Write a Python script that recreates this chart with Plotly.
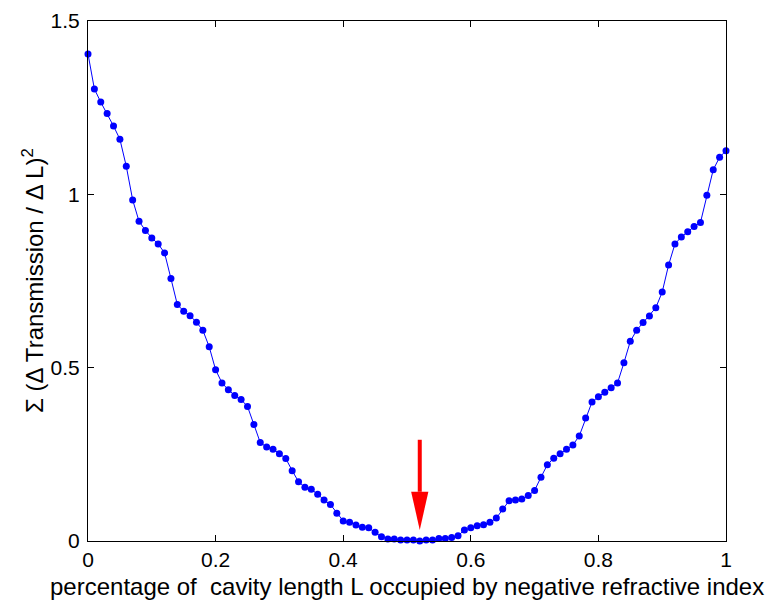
import plotly.graph_objects as go

# Data
fraction = [0.00, 0.01, 0.02, 0.03, 0.04, 0.05, 0.06, 0.07, 0.08, 0.09,
            0.10, 0.11, 0.12, 0.13, 0.14, 0.15, 0.16, 0.17, 0.18, 0.19,
            0.20, 0.21, 0.22, 0.23, 0.24, 0.25, 0.26, 0.27, 0.28, 0.29,
            0.30, 0.31, 0.32, 0.33, 0.34, 0.35, 0.36, 0.37, 0.38, 0.39,
            0.40, 0.41, 0.42, 0.43, 0.44, 0.45, 0.46, 0.47, 0.48, 0.49,
            0.50, 0.51, 0.52, 0.53, 0.54, 0.55, 0.56, 0.57, 0.58, 0.59,
            0.60, 0.61, 0.62, 0.63, 0.64, 0.65, 0.66, 0.67, 0.68, 0.69,
            0.70, 0.71, 0.72, 0.73, 0.74, 0.75, 0.76, 0.77, 0.78, 0.79,
            0.80, 0.81, 0.82, 0.83, 0.84, 0.85, 0.86, 0.87, 0.88, 0.89,
            0.90, 0.91, 0.92, 0.93, 0.94, 0.95, 0.96, 0.97, 0.98, 0.99,
            1.00]

sum_sq = [1.405, 1.304, 1.266, 1.233, 1.197, 1.159, 1.081, 0.984, 0.922, 0.896,
          0.874, 0.857, 0.831, 0.757, 0.682, 0.663, 0.650, 0.631, 0.608, 0.560,
          0.494, 0.456, 0.436, 0.420, 0.408, 0.388, 0.336, 0.284, 0.271, 0.265,
          0.252, 0.238, 0.203, 0.171, 0.155, 0.149, 0.135, 0.118, 0.105, 0.080,
          0.058, 0.054, 0.046, 0.040, 0.038, 0.025, 0.012, 0.006, 0.006, 0.003,
          0.003, 0.003, 0.000, 0.003, 0.003, 0.007, 0.007, 0.010, 0.015, 0.032,
          0.038, 0.044, 0.047, 0.054, 0.066, 0.092, 0.116, 0.118, 0.121, 0.131,
          0.146, 0.184, 0.220, 0.239, 0.252, 0.265, 0.277, 0.303, 0.355, 0.401,
          0.416, 0.429, 0.442, 0.456, 0.514, 0.576, 0.608, 0.630, 0.649, 0.673,
          0.718, 0.796, 0.857, 0.877, 0.892, 0.907, 0.919, 0.997, 1.071, 1.107,
          1.126]

x_ticks = [0, 0.2, 0.4, 0.6, 0.8, 1]
x_tick_labels = ["0", "0.2", "0.4", "0.6", "0.8", "1"]
y_ticks = [0, 0.5, 1, 1.5]
y_tick_labels = ["0", "0.5", "1", "1.5"]

x_title = "percentage of  cavity length L occupied by negative refractive index"
y_title = "Σ (Δ Transmission / Δ L)<sup>2</sup>"

# Arrow marking the minimum (data coordinates)
arrow_x = 0.52
arrow_tail = 0.292
arrow_head_base = 0.142
arrow_tip = 0.032
arrow_half_width = 0.0135

FONT = "Arial, Liberation Sans, Helvetica, sans-serif"
W, H = 770, 600
ML, MR, MT, MB = 88, 44, 21, 59
PW, PH = W - ML - MR, H - MT - MB

fig = go.Figure()
fig.add_trace(go.Scatter(
    x=fraction, y=sum_sq, mode="lines+markers",
    line=dict(color="#0000FF", width=1),
    marker=dict(color="#0000FF", size=7, line=dict(width=0)),
    cliponaxis=False, showlegend=False,
))

# red arrow: shaft + triangular head
fig.add_shape(type="line", xref="x", yref="y",
              x0=arrow_x, x1=arrow_x, y0=arrow_tail, y1=arrow_head_base,
              line=dict(color="#FF0000", width=4))
fig.add_shape(type="path", xref="x", yref="y",
              path=(f"M {arrow_x - arrow_half_width},{arrow_head_base} "
                    f"L {arrow_x + arrow_half_width},{arrow_head_base} "
                    f"L {arrow_x},{arrow_tip} Z"),
              fillcolor="#FF0000", line=dict(color="#FF0000", width=0))

axis_common = dict(
    showgrid=False, zeroline=False, showline=True, linecolor="black",
    linewidth=1, mirror="ticks", ticks="inside", ticklen=6,
    tickcolor="black", tickwidth=1,
    tickfont=dict(family=FONT, size=21, color="black"),
    automargin=False,
)

# axis titles as annotations for exact placement
fig.add_annotation(text=x_title, xref="paper", yref="paper",
                   x=0.5, y=-MB / PH, xanchor="center", yanchor="bottom",
                   yshift=-2, showarrow=False,
                   font=dict(family=FONT, size=24, color="black"))
fig.add_annotation(text=y_title, xref="paper", yref="paper",
                   x=(33 - ML) / PW, y=0.5, xanchor="center", yanchor="middle",
                   textangle=-90, showarrow=False,
                   font=dict(family=FONT, size=24, color="black"))

fig.update_layout(
    width=W, height=H,
    margin=dict(l=ML, r=MR, t=MT, b=MB),
    paper_bgcolor="white", plot_bgcolor="white",
    font=dict(family=FONT, color="black"),
    xaxis=dict(range=[0, 1], tickvals=x_ticks, ticktext=x_tick_labels,
               **axis_common),
    yaxis=dict(range=[0, 1.5], tickvals=y_ticks, ticktext=y_tick_labels,
               ticklabelstandoff=3, **axis_common),
)

fig.write_html("out.html")
